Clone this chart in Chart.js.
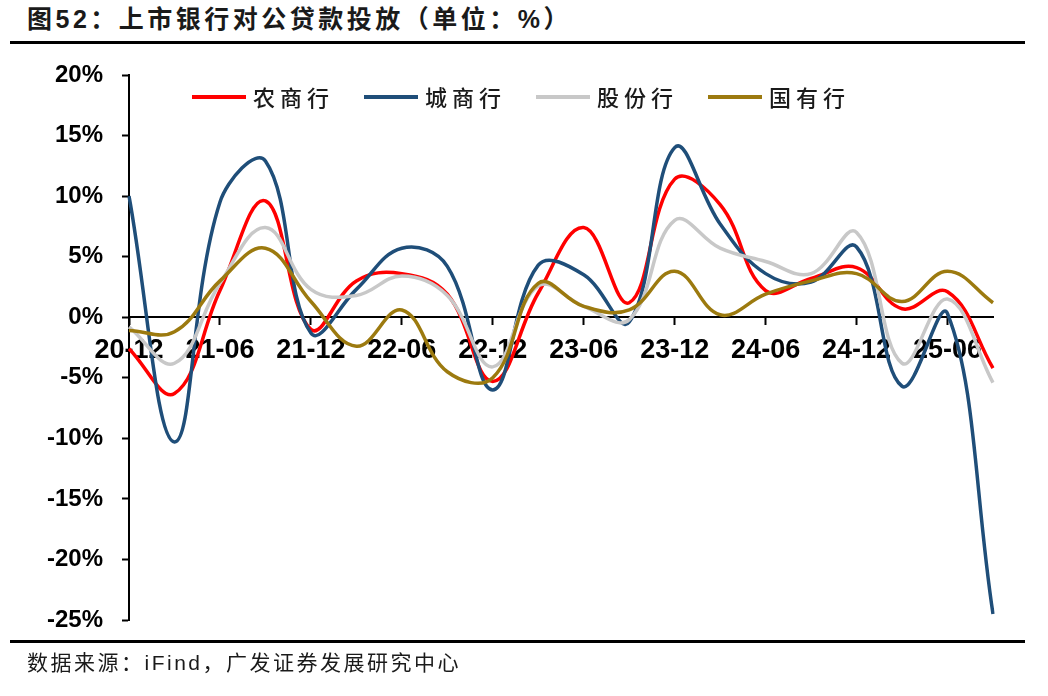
<!DOCTYPE html>
<html><head><meta charset="utf-8">
<script src="https://cdn.jsdelivr.net/npm/chart.js@4/dist/chart.umd.min.js"></script>
<style>
html,body{margin:0;padding:0;background:#fff;}
#wrap{position:relative;width:1048px;height:696px;overflow:hidden;background:#fff;}
#title{position:absolute;left:27px;top:4px;font-weight:bold;font-size:25px;font-family:"Liberation Sans","Noto Sans CJK SC",sans-serif;letter-spacing:3.5px;color:#1a1a1a;white-space:nowrap;line-height:30px;}
.rule{position:absolute;left:10px;width:1015px;height:3px;background:#000;}
#source{position:absolute;left:27px;top:649px;font-size:21px;font-family:"Liberation Sans","Noto Sans CJK SC",sans-serif;letter-spacing:2.5px;color:#1a1a1a;white-space:nowrap;line-height:28px;}
#cw{position:absolute;left:0;top:0;width:1048px;height:696px;}
</style></head>
<body><div id="wrap">
<div id="title">图52：上市银行对公贷款投放（单位：%）</div>
<div class="rule" style="top:41px"></div>
<div id="cw"><canvas id="c"></canvas></div>
<div class="rule" style="top:640px"></div>
<div id="source">数据来源：iFind，广发证券发展研究中心</div>
</div>
<script>
const quarters = ['20-12','21-03','21-06','21-09','21-12','22-03','22-06','22-09','22-12','23-03','23-06','23-09','23-12','24-03','24-06','24-09','24-12','25-03','25-06','25-09'];
const seriesNames = ['农商行','城商行','股份行','国有行'];
const rural = [-2.6, -6.3, 2.2, 9.6, -1.0, 3.0, 3.6, 1.9, -5.3, 2.0, 7.4, 1.2, 11.4, 9.3, 2.2, 3.2, 4.1, 0.7, 2.1, -4.2];
const city  = [10.0, -10.3, 9.5, 12.9, -1.3, 2.3, 5.7, 4.2, -6.0, 4.3, 3.5, -0.4, 14.0, 7.7, 3.6, 2.9, 5.8, -5.7, 0.3, -24.5];
const joint = [-0.8, -3.8, 2.8, 7.4, 2.3, 1.8, 3.4, 1.8, -4.1, 2.6, 0.9, -0.2, 8.0, 5.7, 4.6, 3.6, 7.0, -3.8, 1.5, -5.4];
const state = [-1.1, -1.2, 3.0, 5.7, 1.3, -2.4, 0.6, -4.5, -5.0, 2.8, 0.9, 0.6, 3.8, 0.2, 1.9, 3.0, 3.6, 1.3, 3.8, 1.2];
const yTicks = [-25, -20, -15, -10, -5, 0, 5, 10, 15, 20];
const colors = ['#FF0000', '#1F4E79', '#C8C8C8', '#9C7A0F'];

const legendPlugin = {
  id: 'inLegend',
  afterDraw(chart) {
    const ctx = chart.ctx;
    ctx.save();
    let x = 192; const y = 97;
    ctx.font = '500 22px "Noto Sans CJK SC"';
    ctx.letterSpacing = '5px';
    chart.data.datasets.forEach(ds => {
      ctx.strokeStyle = ds.borderColor; ctx.lineWidth = 4; ctx.lineCap = 'butt';
      ctx.beginPath(); ctx.moveTo(x, y); ctx.lineTo(x + 54, y); ctx.stroke();
      x += 61;
      ctx.fillStyle = '#1a1a1a'; ctx.textBaseline = 'middle'; ctx.textAlign = 'left';
      ctx.fillText(ds.label, x, y + 1);
      x += ctx.measureText(ds.label).width + 30;
    });
    ctx.restore();
  }
};

const allData = [rural, city, joint, state];
new Chart(document.getElementById('c'), {
  type: 'line',
  data: {
    labels: quarters,
    datasets: allData.map((d, i) => ({
      label: seriesNames[i], data: d, borderColor: colors[i], backgroundColor: colors[i],
      borderWidth: 3.5, pointRadius: 0, tension: 0.4, fill: false, order: 3 - i
    }))
  },
  options: {
    responsive: true, maintainAspectRatio: false, animation: false,
    layout: { padding: { top: 75, bottom: 76, left: 0, right: 55 } },
    plugins: { legend: { display: false }, tooltip: { enabled: false } },
    scales: {
      x: {
        type: 'category', position: { y: 0 }, offset: false,
        grid: { drawOnChartArea: false, drawTicks: true, tickLength: 7, tickWidth: 2,
          color: c => (c.index % 2 === 0 ? '#000' : 'rgba(0,0,0,0)') },
        border: { display: true, color: '#000', width: 2 },
        ticks: { autoSkip: false, maxRotation: 0, minRotation: 0, padding: 10, color: '#000',
          font: { family: '"Liberation Sans", Arial', size: 27, weight: 'bold' },
          callback: (v, i) => (i % 2 === 0 ? quarters[i] : '') }
      },
      y: {
        min: -25, max: 20,
        afterFit: s => { s.width = 129; },
        afterBuildTicks: s => { s.ticks = yTicks.map(v => ({ value: v })); },
        grid: { drawOnChartArea: false, drawTicks: true, tickLength: 7, tickWidth: 2, color: '#000' },
        border: { display: true, color: '#000', width: 2 },
        ticks: { padding: 19, color: '#000',
          font: { family: '"Liberation Sans", Arial', size: 24, weight: 'bold' },
          callback: v => v + '%' }
      }
    }
  },
  plugins: [legendPlugin]
});
</script>
</body></html>
